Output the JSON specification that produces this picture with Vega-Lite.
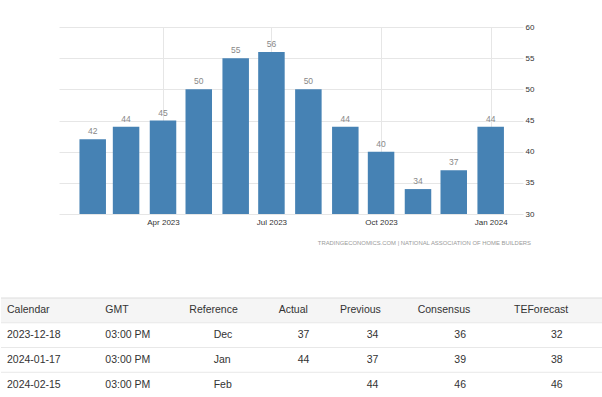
{
  "$schema": "https://vega.github.io/schema/vega-lite/v6.json",
  "padding": {"top": 23, "left": 0, "right": 0, "bottom": 0},
  "background": "#ffffff",
  "config": {
    "view": {"stroke": null},
    "font": "Liberation Sans",
    "text": {"font": "Liberation Sans"}
  },
  "datasets": {
    "nahb": [
      {"date": "2023-02-01", "value": 42},
      {"date": "2023-03-01", "value": 44},
      {"date": "2023-04-01", "value": 45},
      {"date": "2023-05-01", "value": 50},
      {"date": "2023-06-01", "value": 55},
      {"date": "2023-07-01", "value": 56},
      {"date": "2023-08-01", "value": 50},
      {"date": "2023-09-01", "value": 44},
      {"date": "2023-10-01", "value": 40},
      {"date": "2023-11-01", "value": 34},
      {"date": "2023-12-01", "value": 37},
      {"date": "2024-01-01", "value": 44}
    ],
    "cols": [
      {"col": "Calendar", "idx": 0},
      {"col": "GMT", "idx": 1},
      {"col": "Reference", "idx": 2},
      {"col": "Actual", "idx": 3},
      {"col": "Previous", "idx": 4},
      {"col": "Consensus", "idx": 5},
      {"col": "TEForecast", "idx": 6}
    ],
    "events": [
      {"Calendar": "2023-12-18", "GMT": "03:00 PM", "Reference": "Dec", "Actual": "37", "Previous": "34", "Consensus": "36", "TEForecast": "32"},
      {"Calendar": "2024-01-17", "GMT": "03:00 PM", "Reference": "Jan", "Actual": "44", "Previous": "37", "Consensus": "39", "TEForecast": "38"},
      {"Calendar": "2024-02-15", "GMT": "03:00 PM", "Reference": "Feb", "Previous": "44", "Consensus": "46", "TEForecast": "46"}
    ]
  },
  "spacing": 51,
  "vconcat": [
    {
      "spacing": 0,
      "hconcat": [
        {
          "width": 58,
          "height": 10,
          "data": {"values": [{}]},
          "mark": {"type": "text"},
          "encoding": {"text": {"value": ""}}
        },
        {
          "width": 464,
          "height": 187,
          "data": {"name": "nahb"},
          "title": {
            "text": "TRADINGECONOMICS.COM | NATIONAL ASSOCIATION OF HOME BUILDERS",
            "orient": "bottom",
            "anchor": "end",
            "frame": "group",
            "fontSize": 5.9,
            "fontWeight": "normal",
            "color": "#9a9a9a",
            "font": "Liberation Sans",
            "offset": 14,
            "dx": 8
          },
          "encoding": {
            "x": {
              "field": "date",
              "type": "temporal",
              "scale": {
                "type": "utc",
                "nice": false,
                "padding": 0,
                "domain": [
                  {"year": 2023, "month": 1, "date": 3, "hours": 17, "utc": true},
                  {"year": 2024, "month": 1, "date": 28, "hours": 3, "utc": true}
                ]
              },
              "axis": {
                "title": null,
                "values": [
                  {"year": 2023, "month": 4, "date": 1, "utc": true},
                  {"year": 2023, "month": 7, "date": 1, "utc": true},
                  {"year": 2023, "month": 10, "date": 1, "utc": true},
                  {"year": 2024, "month": 1, "date": 1, "utc": true}
                ],
                "labelExpr": "utcFormat(datum.value, '%b %Y')",
                "grid": true,
                "gridColor": "#e6e6e6",
                "domain": false,
                "ticks": false,
                "labelFlush": false,
                "labelFontSize": 8,
                "labelColor": "#333333",
                "labelPadding": 4
              }
            },
            "y": {
              "field": "value",
              "type": "quantitative",
              "scale": {"domain": [30, 60], "zero": false, "nice": false},
              "axis": {
                "title": null,
                "orient": "right",
                "values": [30, 35, 40, 45, 50, 55, 60],
                "grid": true,
                "gridColor": "#e6e6e6",
                "domain": false,
                "ticks": false,
                "labelFontSize": 8,
                "labelColor": "#333333",
                "labelPadding": 2
              }
            }
          },
          "layer": [
            {
              "mark": {"type": "bar", "size": 26.5, "color": "#4682b4"},
              "encoding": {"y2": {"datum": 30}}
            },
            {
              "mark": {"type": "text", "baseline": "alphabetic", "dy": -5, "fontSize": 8.5, "color": "#888888"},
              "encoding": {"text": {"field": "value", "type": "quantitative"}}
            }
          ]
        }
      ]
    },
    {
      "width": 602,
      "height": 99,
      "resolve": {"scale": {"x": "independent"}},
      "layer": [
        {
          "data": {"values": [{}]},
          "mark": {"type": "rect", "color": "#f5f5f5"},
          "encoding": {
            "y": {"datum": "Header", "type": "nominal", "scale": {"type": "band", "domain": ["Header", "2023-12-18", "2024-01-17", "2024-02-15"], "paddingInner": 0, "paddingOuter": 0}, "axis": null}
          }
        },
        {
          "data": {"values": [{}]},
          "mark": {"type": "rule", "color": "#dddddd", "strokeWidth": 1},
          "encoding": {
            "y": {"datum": "Header", "type": "nominal", "bandPosition": 0, "scale": {"type": "band", "domain": ["Header", "2023-12-18", "2024-01-17", "2024-02-15"], "paddingInner": 0, "paddingOuter": 0}, "axis": null}
          }
        },
        {
          "data": {"name": "events"},
          "mark": {"type": "rule", "color": "#e8e8e8", "strokeWidth": 1},
          "encoding": {
            "y": {"field": "Calendar", "type": "nominal", "bandPosition": 0, "scale": {"type": "band", "domain": ["Header", "2023-12-18", "2024-01-17", "2024-02-15"], "paddingInner": 0, "paddingOuter": 0}, "axis": null}
          }
        },
        {
          "data": {"name": "cols"},
          "mark": {"type": "text", "align": "left", "baseline": "middle", "fontSize": 10.5, "color": "#333333"},
          "encoding": {
            "x": {"field": "idx", "type": "quantitative", "scale": {"domain": [0, 1, 2, 3, 4, 5, 6], "range": [6, 104.3, 188.3, 277.7, 339, 416.7, 513], "zero": false, "nice": false}, "axis": null},
            "y": {"datum": "Header", "type": "nominal", "scale": {"type": "band", "domain": ["Header", "2023-12-18", "2024-01-17", "2024-02-15"], "paddingInner": 0, "paddingOuter": 0}, "axis": null},
            "text": {"field": "col", "type": "nominal"}
          }
        },
        {
          "data": {"name": "events"},
          "transform": [
            {"fold": ["Calendar", "GMT", "Reference", "Actual", "Previous", "Consensus", "TEForecast"], "as": ["col", "val"]},
            {"filter": "isValid(datum.val) && datum.val !== ''"},
            {"lookup": "col", "from": {"data": {"name": "cols"}, "key": "col", "fields": ["idx"]}}
          ],
          "mark": {"type": "text", "align": "left", "baseline": "middle", "fontSize": 10.5, "color": "#333333"},
          "encoding": {
            "x": {"field": "idx", "type": "quantitative", "scale": {"domain": [0, 1, 2, 3, 4, 5, 6], "range": [6, 104.3, 212.7, 296.7, 365.7, 453.3, 550], "zero": false, "nice": false}, "axis": null},
            "y": {"field": "Calendar", "type": "nominal", "scale": {"type": "band", "domain": ["Header", "2023-12-18", "2024-01-17", "2024-02-15"], "paddingInner": 0, "paddingOuter": 0}, "axis": null},
            "text": {"field": "val", "type": "nominal"}
          }
        }
      ]
    }
  ]
}
